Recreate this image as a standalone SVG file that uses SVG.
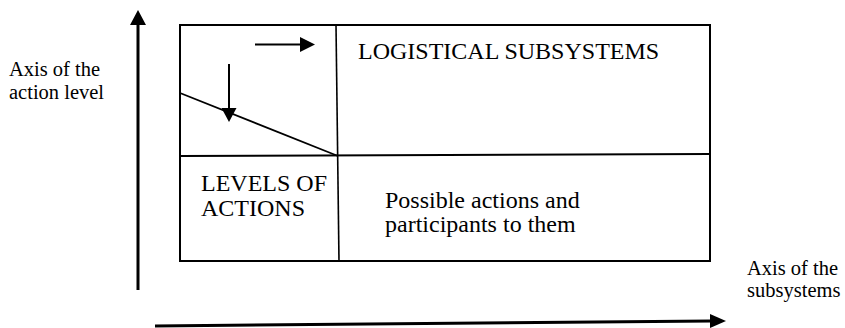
<svg xmlns="http://www.w3.org/2000/svg" width="845" height="328" viewBox="0 0 845 328">
<style>
.ax{font-size:20.5px}
.bx{font-size:24px}
.ln{stroke:#000;fill:none}
</style>
<rect width="845" height="328" fill="#fff"/>
<g id="matrix">
<rect x="180" y="25" width="530" height="236" class="ln" stroke-width="2"/>
<line x1="180" y1="156" x2="710" y2="154" class="ln" stroke-width="2"/>
<line x1="336" y1="25" x2="339" y2="261" class="ln" stroke-width="1.6"/>
<line x1="180" y1="93" x2="338" y2="156" class="ln" stroke-width="1.8"/>
</g>
<g id="connectors">
<line x1="138" y1="290" x2="138" y2="24" class="ln" stroke-width="3"/>
<path d="M138,10 L130,25 L146,25 Z" fill="#000"/>
<line x1="155" y1="326" x2="711" y2="321" class="ln" stroke-width="3"/>
<path d="M726,321 L710,314 L710,328 Z" fill="#000"/>
<line x1="255" y1="44.5" x2="301" y2="44.5" class="ln" stroke-width="2"/>
<path d="M315,44.5 L300,37 L300,52 Z" fill="#000"/>
<line x1="229" y1="64" x2="229" y2="109" class="ln" stroke-width="2"/>
<path d="M229,122 L221.5,108 L236.5,108 Z" fill="#000"/>
</g>
<g font-family="Liberation Serif, serif" fill="#000">
<g id="label-action-axis">
<text class="ax" x="9" y="76">Axis of the</text>
<text class="ax" x="9" y="99">action level</text>
</g>
<g id="label-subsystems-axis">
<text class="ax" x="747" y="275">Axis of the</text>
<text class="ax" x="747" y="297">subsystems</text>
</g>
<g id="node-logistical">
<text class="bx" x="358" y="59">LOGISTICAL SUBSYSTEMS</text>
</g>
<g id="node-levels">
<text class="bx" x="201" y="191">LEVELS OF</text>
<text class="bx" x="201" y="216">ACTIONS</text>
</g>
<g id="node-possible">
<text class="bx" x="385" y="207.5">Possible actions and</text>
<text class="bx" x="385" y="231.5">participants to them</text>
</g>
</g>
</svg>
